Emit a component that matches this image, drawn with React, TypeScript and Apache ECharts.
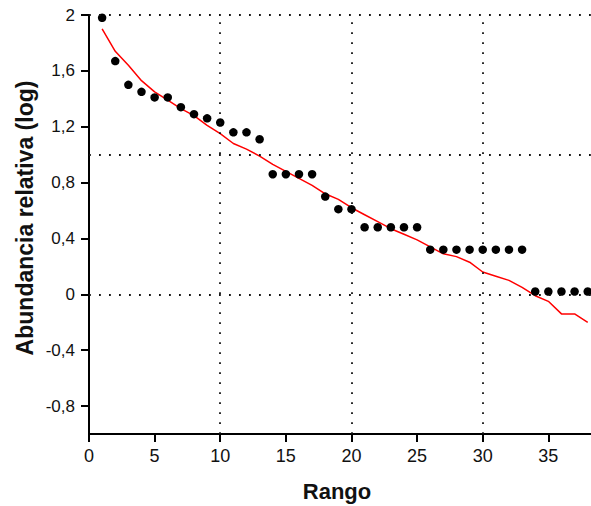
import React, { useEffect, useRef } from "react";
import * as echarts from "echarts";

const ranks: number[] = Array.from({ length: 38 }, (_, i) => i + 1);

const observed: number[] = [
  1.98, 1.67, 1.5, 1.45, 1.41, 1.41, 1.34, 1.29, 1.26, 1.23,
  1.16, 1.16, 1.11, 0.86, 0.86, 0.86, 0.86, 0.7, 0.61, 0.61,
  0.48, 0.48, 0.48, 0.48, 0.48, 0.32, 0.32, 0.32, 0.32, 0.32,
  0.32, 0.32, 0.32, 0.02, 0.02, 0.02, 0.02, 0.02,
];

const fitted: number[] = [
  1.9, 1.74, 1.64, 1.53, 1.45, 1.39, 1.33, 1.28, 1.21, 1.15,
  1.08, 1.04, 0.99, 0.93, 0.88, 0.83, 0.78, 0.72, 0.68, 0.62,
  0.57, 0.52, 0.47, 0.43, 0.39, 0.34, 0.29, 0.27, 0.23, 0.16,
  0.13, 0.1, 0.05, -0.01, -0.05, -0.14, -0.14, -0.2,
];

const xTicks: number[] = [0, 5, 10, 15, 20, 25, 30, 35];
const yTicks: number[] = [-0.8, -0.4, 0, 0.4, 0.8, 1.2, 1.6, 2];
const xGridLines: number[] = [10, 20, 30];
const yGridLines: number[] = [0, 1, 2];

const xTitle = "Rango";
const yTitle = "Abundancia relativa (log)";

const tickFont = "'Liberation Sans Narrow', 'Liberation Sans', Arial, sans-serif";
const titleFont = "'Liberation Sans', Arial, sans-serif";

export default function App() {
  const ref = useRef<HTMLDivElement>(null);

  useEffect(() => {
    if (!ref.current) return;
    const chart = echarts.init(ref.current, null, { renderer: "svg" });
    const fmt = (v: number) => String(Math.round(v * 10) / 10).replace(".", ",");
    const axisLineStyle = { color: "#000", width: 2 };

    chart.setOption({
      animation: false,
      backgroundColor: "#ffffff",
      grid: { left: 89, right: 0, top: 15, bottom: 72, containLabel: false },
      xAxis: {
        type: "value",
        min: 0,
        max: 38.25,
        axisLine: { show: true, onZero: false, lineStyle: axisLineStyle },
        axisTick: { show: true, length: 8, customValues: xTicks, lineStyle: { color: "#000", width: 2 } },
        axisLabel: {
          customValues: xTicks,
          margin: 13,
          fontSize: 18,
          fontFamily: tickFont,
          color: "#111",
          formatter: fmt,
        },
        splitLine: { show: false },
      },
      yAxis: {
        type: "value",
        min: -1,
        max: 2,
        axisLine: { show: true, onZero: false, lineStyle: axisLineStyle },
        axisTick: { show: true, length: 8, customValues: yTicks, lineStyle: { color: "#000", width: 2 } },
        axisLabel: {
          customValues: yTicks,
          margin: 14,
          fontSize: 17,
          fontFamily: tickFont,
          color: "#111",
          formatter: fmt,
        },
        splitLine: { show: false },
      },
      graphic: [
        {
          type: "text",
          x: 337,
          y: 491,
          style: {
            text: xTitle,
            font: `bold 22px ${titleFont}`,
            fill: "#111",
            align: "center",
            verticalAlign: "middle",
          },
        },
        {
          type: "text",
          x: 25,
          y: 218,
          rotation: Math.PI / 2,
          style: {
            text: yTitle,
            font: `bold 23px ${titleFont}`,
            fill: "#111",
            align: "center",
            verticalAlign: "middle",
          },
        },
      ],
      series: [
        {
          type: "line",
          name: "fit",
          data: ranks.map((r, i) => [r, fitted[i]]),
          showSymbol: false,
          symbol: "none",
          lineStyle: { color: "#ff0000", width: 1.5 },
          z: 2,
          markLine: {
            silent: true,
            symbol: "none",
            label: { show: false },
            lineStyle: { color: "#111", width: 1.8, type: [1.8, 8.2] },
            data: [
              ...xGridLines.map((v) => ({ xAxis: v })),
              ...yGridLines.map((v) => ({ yAxis: v })),
            ],
          },
        },
        {
          type: "scatter",
          name: "obs",
          data: ranks.map((r, i) => [r, observed[i]]),
          symbol: "circle",
          symbolSize: 8.5,
          itemStyle: { color: "#000", opacity: 1 },
          z: 3,
        },
      ],
    });
    return () => chart.dispose();
  }, []);

  return (
    <div
      ref={ref}
      style={{ position: "absolute", left: 0, top: 0, width: 591, height: 506, background: "#fff" }}
    />
  );
}
